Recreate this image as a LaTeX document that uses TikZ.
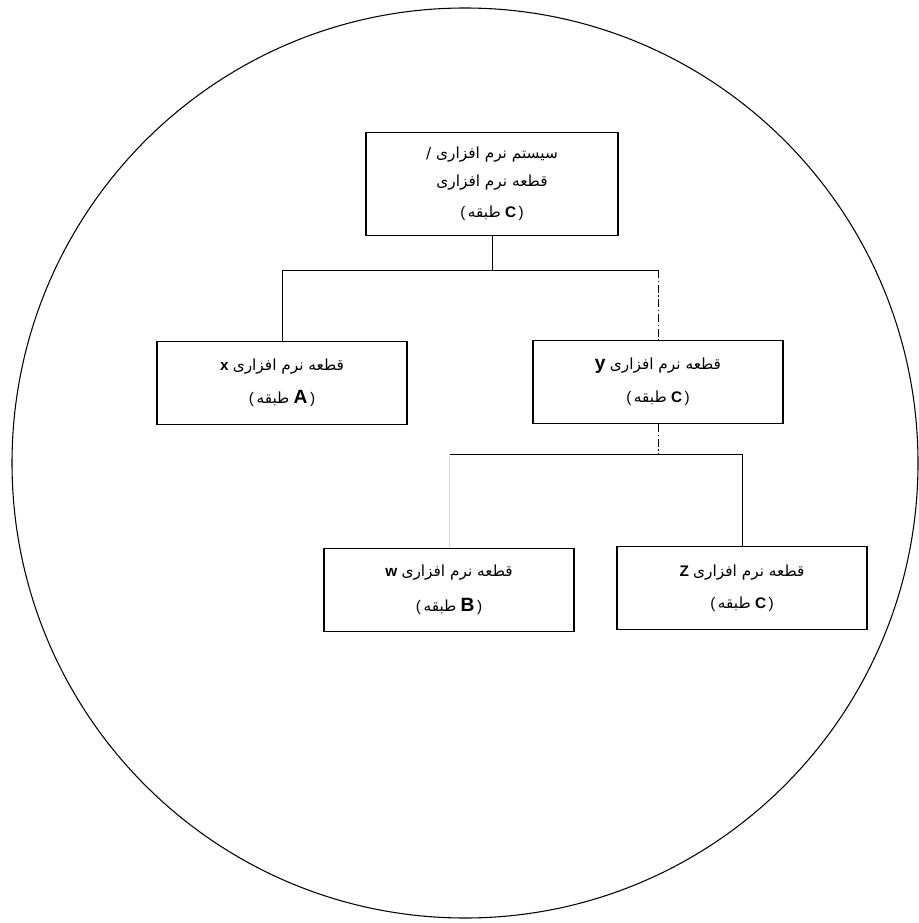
\documentclass[tikz,border=0pt]{standalone}
\usepackage{fontspec}
\setmainfont{Liberation Sans}
\newfontfamily\arabicfont[Script=Arabic]{DejaVu Sans}
\TeXXeTstate=1
\newcommand{\fa}[1]{{\arabicfont\beginR #1\endR}}

\begin{document}
\begin{tikzpicture}[x=0.75pt,y=-0.75pt,
    part/.style={draw,line width=1.2pt,rectangle,align=center,
      minimum width=187.5pt,minimum height=62pt,
      font=\fontsize{11.5}{14}\selectfont},
    link/.style={line width=0.7pt},
    broken/.style={link,dash pattern=on 6pt off 2pt on 1pt off 2pt}]
  \useasboundingbox (0,0) rectangle (919,923);
  \draw[line width=0.8pt] (465,463) ellipse [x radius=453, y radius=455];

  % boxes
  \node[part,minimum width=189pt,minimum height=77pt] (sys) at (492,184)
    {\fa{سیستم نرم افزاری /}\\[7pt]\fa{قطعه نرم افزاری}\\[9pt](\,\fa{طبقه} \textbf{C}\,)};
  \node[part] (x) at (282,383) {\textbf{x} \fa{قطعه نرم افزاری}\\[11pt](\,\fa{طبقه} \textbf{\Large A}\,)};
  \node[part] (y) at (658,382) {\textbf{\Large y} \fa{قطعه نرم افزاری}\\[11pt](\,\fa{طبقه} \textbf{C}\,)};
  \node[part] (w) at (449,590) {\textbf{w} \fa{قطعه نرم افزاری}\\[12pt](\,\fa{طبقه} \textbf{\Large B}\,)};
  \node[part] (z) at (742,588) {\textbf{Z} \fa{قطعه نرم افزاری}\\[10pt](\,\fa{طبقه} \textbf{C}\,)};

  % tree lines
  \coordinate (j1) at (492,270);
  \coordinate (ty) at (658,270);
  \coordinate (j2) at (658,454);
  \coordinate (tw) at (449,454);
  \draw[link] (sys) -- (j1);
  \draw[link] (j1) -| (x);
  \draw[link] (j1) -- (ty);
  \draw[broken] (ty) -- (y);
  \draw[broken] (y) -- (j2);
  \draw[link] (j2) -| (z);
  \draw[link] (j2) -- (tw);
  \draw[link,gray!30] (tw) -- (w);
\end{tikzpicture}
\end{document}
